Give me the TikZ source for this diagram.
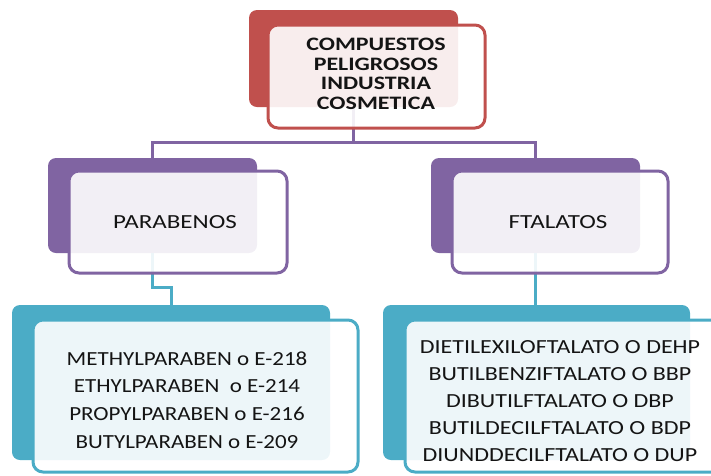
\documentclass[tikz,border=0pt]{standalone}
\usepackage{fontspec}
\setmainfont{Carlito}
\newfontfamily\topfont[FakeStretch=1.26]{Carlito}
\newfontfamily\midfont[FakeStretch=1.25]{Carlito}
\newfontfamily\blfont[FakeStretch=1.15]{Carlito}
\newfontfamily\brfont[FakeStretch=1.2]{Carlito}
\usetikzlibrary{calc}
\definecolor{ored}{HTML}{C0504D}
\definecolor{opurple}{HTML}{8064A2}
\definecolor{ocyan}{HTML}{4BACC6}
\definecolor{txt}{HTML}{141414}
\tikzset{
  backbox/.style={draw=none, rounded corners=8pt, inner sep=0pt},
  frontbox/.style={rounded corners=10pt, line width=3pt, fill=white, fill opacity=0.9, inner sep=0pt},
  conn/.style={line width=3pt},
  lbl/.style={text=txt, align=center, inner sep=0pt},
}
\begin{document}
\begin{tikzpicture}[x=1pt, y=-1pt]
\useasboundingbox (0,0) rectangle (711,475);
\clip (0,0) rectangle (711,475);
% back boxes
\node[backbox, fill=ored, minimum width=209pt, minimum height=97pt] (tb) at (353.5,58.5) {};
\node[backbox, fill=opurple, minimum width=209pt, minimum height=95pt] (lb) at (152.5,205.5) {};
\node[backbox, fill=opurple, minimum width=209pt, minimum height=95pt] (rb) at (535.5,205.5) {};
\node[backbox, fill=ocyan, minimum width=318pt, minimum height=155pt] (blb) at (171,382.5) {};
\node[backbox, fill=ocyan, minimum width=307pt, minimum height=155pt] (brb) at (536.5,382.5) {};
% connectors
\coordinate (j) at (353.5,142);
\draw[conn, opurple] (tb.south) -- (j) -| (lb.north);
\draw[conn, opurple] (j) -| (rb.north);
\draw[conn, ocyan] (lb.south) -- ++(0,34) -| (blb.north);
\draw[conn, ocyan] (rb.south) -- (rb.south |- brb.north);
% front boxes
\node[frontbox, draw=ored, minimum width=217pt, minimum height=103pt] (tf) at (376.5,76.5) {};
\node[frontbox, draw=opurple, minimum width=218pt, minimum height=102pt] (lf) at (178,222) {};
\node[frontbox, draw=opurple, minimum width=216pt, minimum height=102pt] (rf) at (560,222) {};
\node[frontbox, draw=ocyan, minimum width=325pt, minimum height=152pt] (blf) at (195.5,396) {};
\node[frontbox, draw=ocyan, minimum width=330pt, minimum height=152pt] (brf) at (570,396) {};
% labels
\node[lbl, font=\topfont\fontsize{19}{19.5}\selectfont\bfseries] (tt) at (376,74) {COMPUESTOS\\PELIGROSOS\\INDUSTRIA\\COSMETICA};
\node[lbl, font=\midfont\fontsize{20}{27}\selectfont] (lt) at (175,222) {PARABENOS};
\node[lbl, font=\midfont\fontsize{20}{27}\selectfont] (rt) at (558,222) {FTALATOS};
\node[lbl, font=\blfont\fontsize{20}{27.7}\selectfont] (blt) at (187,400) {METHYLPARABEN o E-218\\ETHYLPARABEN\ \ o E-214\\PROPYLPARABEN o E-216\\BUTYLPARABEN o E-209};
\node[lbl, font=\brfont\fontsize{20}{27}\selectfont] (brt) at (560,401.5) {DIETILEXILOFTALATO O DEHP\\BUTILBENZIFTALATO O BBP\\DIBUTILFTALATO O DBP\\BUTILDECILFTALATO O BDP\\DIUNDDECILFTALATO O DUP};
\end{tikzpicture}
\end{document}
